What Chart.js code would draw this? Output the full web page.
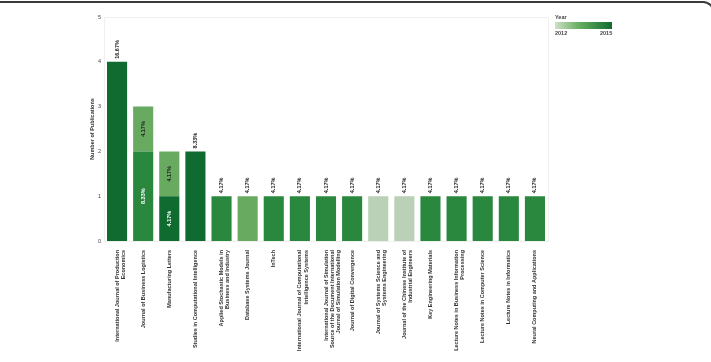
<!DOCTYPE html>
<html>
<head>
<meta charset="utf-8">
<script src="https://cdn.jsdelivr.net/npm/chart.js@4.4.1/dist/chart.umd.min.js"></script>
<style>
  body { margin: 0; background: #fff; overflow: hidden; }
  #wrap { position: relative; width: 711px; height: 362px; }
  #frame { position: absolute; left: -30px; top: 1px; width: 745px; height: 500px; box-sizing: border-box;
    border: 2px solid #3a3a3a; border-radius: 12px; }
  #legend { position: absolute; left: 555px; top: 14px; width: 60px; font-family: "Liberation Sans", Arial, sans-serif;
    font-size: 5.5px; font-weight: bold; color: #444; }
  #legend .bar { width: 57px; height: 7px; margin-top: 2px; background: linear-gradient(to right, #cfe0c9, #6cb163 40%, #0f6b30); }
  #legend .lab { position: relative; height: 8px; margin-top: 1px; }
  #legend .lab span { position: absolute; top: 0; }
</style>
</head>
<body>
<div id="wrap">
  <div id="frame"></div>
  <canvas id="chart" width="711" height="362"></canvas>
  <div id="legend">
    <div>Year</div>
    <div class="bar"></div>
    <div class="lab"><span style="left:0">2012</span><span style="left:45px">2015</span></div>
  </div>
</div>
<script>
var categories = [
  ["International Journal of Production", "Economics"],
  "Journal of Business Logistics",
  "Manufacturing Letters",
  "Studies in Computational Intelligence",
  ["Applied Stochastic Models in", "Business and Industry"],
  "Database Systems Journal",
  "InTech",
  ["International Journal of Computational", "Intelligence Systems"],
  ["International Journal of Simulation", "Source of the Document International", "Journal of Simulation Modelling"],
  "Journal of Digital Convergence",
  ["Journal of Systems Science and", "Systems Engineering"],
  ["Journal of the Chinese Institute of", "Industrial Engineers"],
  "Key Engineering Materials",
  ["Lecture Notes in Business Information", "Processing"],
  "Lecture Notes in Computer Science",
  "Lecture Notes in Informatics",
  "Neural Computing and Applications"
];
var pubs2015 = [4, null, 1, 2, null, null, null, null, null, null, null, null, null, null, null, null, null];
var pubs2014 = [null, 2, null, null, 1, null, 1, 1, 1, 1, null, null, 1, 1, 1, 1, 1];
var pubs2013 = [null, 1, 1, null, null, 1, null, null, null, null, null, null, null, null, null, null, null];
var pubs2012 = [null, null, null, null, null, null, null, null, null, null, 1, 1, null, null, null, null, null];
var yTicks = [0, 1, 2, 3, 4, 5];
var totalPubs = 24;

var labelFont = 'bold 5.5px "Liberation Sans", Arial, sans-serif';

// percent labels on the bars
var pctLabels = {
  id: 'pctLabels',
  afterDatasetsDraw: function(chart) {
    var ctx = chart.ctx;
    var n = categories.length;
    var segs = [];
    for (var i = 0; i < n; i++) {
      var s = 0;
      chart.data.datasets.forEach(function(ds) { if (ds.data[i]) s++; });
      segs.push(s);
    }
    ctx.save();
    ctx.font = labelFont;
    chart.data.datasets.forEach(function(ds, di) {
      var meta = chart.getDatasetMeta(di);
      meta.data.forEach(function(bar, i) {
        var v = ds.data[i];
        if (!v) return;
        var txt = (v / totalPubs * 100).toFixed(2) + '%';
        ctx.save();
        if (segs[i] === 1) {
          ctx.translate(bar.x, bar.y - 3);
          ctx.rotate(-Math.PI / 2);
          ctx.textAlign = 'left';
          ctx.textBaseline = 'middle';
          ctx.fillStyle = '#222';
        } else {
          ctx.translate(bar.x, (bar.y + bar.base) / 2);
          ctx.rotate(-Math.PI / 2);
          ctx.textAlign = 'center';
          ctx.textBaseline = 'middle';
          ctx.fillStyle = ds.insideText;
        }
        ctx.fillText(txt, 0, 0);
        ctx.restore();
      });
    });
    ctx.restore();
  }
};

var plotFrame = {
  id: 'plotFrame',
  beforeDraw: function(chart) {
    var a = chart.chartArea, ctx = chart.ctx;
    ctx.save();
    ctx.strokeStyle = '#f0f0f0';
    ctx.lineWidth = 1;
    ctx.strokeRect(a.left + 0.5, a.top + 0.5, a.right - a.left, a.bottom - a.top);
    ctx.restore();
  }
};

new Chart(document.getElementById('chart'), {
  type: 'bar',
  data: {
    labels: categories,
    datasets: [
      {label: '2015', data: pubs2015, backgroundColor: '#0f6b30', insideText: '#fff'},
      {label: '2014', data: pubs2014, backgroundColor: '#2a883e', insideText: '#fff'},
      {label: '2013', data: pubs2013, backgroundColor: '#68ab60', insideText: '#222'},
      {label: '2012', data: pubs2012, backgroundColor: '#bbd1b7', insideText: '#222'}
    ]
  },
  options: {
    responsive: false,
    animation: false,
    layout: {padding: {left: 89, right: 163, top: 17, bottom: 0}},
    datasets: {bar: {barPercentage: 0.77, categoryPercentage: 1}},
    plugins: {legend: {display: false}, tooltip: {enabled: false}},
    scales: {
      x: {
        stacked: true,
        grid: {display: false, drawTicks: false},
        border: {display: false},
        afterFit: function(s) { s.height = 121; },
        ticks: {
          autoSkip: false, minRotation: 90, maxRotation: 90, padding: 9,
          color: '#333',
          font: {family: '"Liberation Sans", Arial, sans-serif', size: 5.5, weight: 'bold', lineHeight: 1.15}
        }
      },
      y: {
        stacked: true,
        min: 0, max: 5,
        grid: {display: false, drawTicks: false},
        border: {display: false},
        afterFit: function(s) { s.width = 15; },
        afterBuildTicks: function(s) { s.ticks = yTicks.map(function(v) { return {value: v}; }); },
        ticks: {
          padding: 3, color: '#444',
          font: {family: '"Liberation Sans", Arial, sans-serif', size: 5.5}
        },
        title: {
          display: true, text: 'Number of Publications', color: '#333', padding: 0,
          font: {family: '"Liberation Sans", Arial, sans-serif', size: 5.5, weight: 'bold'}
        }
      }
    }
  },
  plugins: [plotFrame, pctLabels]
});
</script>
</body>
</html>
